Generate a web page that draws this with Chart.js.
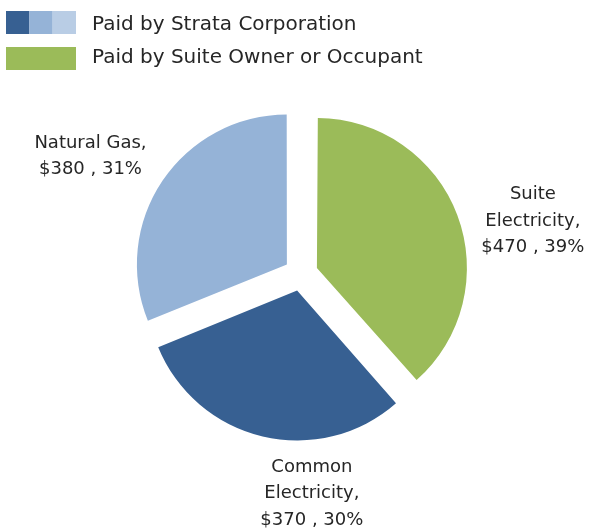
<!DOCTYPE html>
<html>
<head>
<meta charset="utf-8">
<script src="https://cdn.jsdelivr.net/npm/chart.js@4/dist/chart.umd.min.js"></script>
<style>
  html, body { margin: 0; padding: 0; background: #fff; }
  #wrap { position: relative; width: 589px; height: 529px; }
</style>
</head>
<body>
<div id="wrap"><canvas id="pie"></canvas></div>
<script>
// ── Utility cost split: pie ──
const sliceNames  = ['Suite Electricity', 'Common Electricity', 'Natural Gas'];
const sliceCosts  = [470, 370, 380];
const slicePcts   = [39, 30, 31];
const labelLines  = [
  ['Suite', 'Electricity,', '$470 , 39%'],
  ['Common', 'Electricity,', '$370 , 30%'],
  ['Natural Gas,', '$380 , 31%']
];
const legendTexts = ['Paid by Strata Corporation', 'Paid by Suite Owner or Occupant'];

const GREEN = '#9BBB59', DARK = '#376092', MID = '#95B3D7', LIGHT = '#B9CDE5';
const sliceColors = [GREEN, DARK, MID];
const TEXT = '#262626';
const FONT = '"DejaVu Sans", sans-serif';

// label placement relative to each slice's outer mid point
const labelShift = [[81, 4], [49, 58], [-73, -25]];

// Chart.js grows an offset arc's radius a bit; undo that so all slices match
const evenRadius = {
  id: 'evenRadius',
  afterDatasetUpdate(chart) {
    chart.getDatasetMeta(0).data.forEach(arc => {
      const off = (arc.options.offset || 0) / 4;
      const fix = 1 - Math.sin(Math.min(Math.PI, arc.circumference));
      arc.outerRadius -= off * fix;
    });
  }
};

const sliceLabels = {
  id: 'sliceLabels',
  afterDatasetsDraw(chart) {
    const ctx = chart.ctx;
    const arcs = chart.getDatasetMeta(0).data;
    ctx.save();
    ctx.fillStyle = TEXT;
    ctx.font = '18px ' + FONT;
    ctx.textAlign = 'center';
    ctx.textBaseline = 'middle';
    arcs.forEach((arc, i) => {
      const mid = (arc.startAngle + arc.endAngle) / 2;
      const off = (arc.options.offset || 0) / 4;
      const r = off + arc.outerRadius;
      const px = arc.x + Math.cos(mid) * r + labelShift[i][0];
      const py = arc.y + Math.sin(mid) * r + labelShift[i][1];
      const lines = labelLines[i];
      const lh = 26.5;
      lines.forEach((t, k) => {
        ctx.fillText(t, px, py + (k - (lines.length - 1) / 2) * lh);
      });
    });
    ctx.restore();
  }
};

const legendBox = {
  id: 'legendBox',
  afterDraw(chart) {
    const ctx = chart.ctx;
    ctx.save();
    // strata: three blue shades in one swatch
    [DARK, MID, LIGHT].forEach((c, k) => {
      ctx.fillStyle = c;
      ctx.fillRect(6 + k * 23.3, 11, 23.4, 23);
    });
    ctx.fillStyle = GREEN;
    ctx.fillRect(6, 47, 70, 23);
    ctx.fillStyle = TEXT;
    ctx.font = '20px ' + FONT;
    ctx.textAlign = 'left';
    ctx.textBaseline = 'alphabetic';
    ctx.fillText(legendTexts[0], 92, 30);
    ctx.fillText(legendTexts[1], 92, 63);
    ctx.restore();
  }
};

new Chart(document.getElementById('pie'), {
  type: 'pie',
  data: {
    labels: sliceNames,
    datasets: [{
      data: sliceCosts,
      backgroundColor: sliceColors,
      borderWidth: 0,
      offset: 68,
      hoverOffset: 0
    }]
  },
  options: {
    responsive: true,
    maintainAspectRatio: false,
    animation: false,
    layout: { padding: { left: 117, right: 104, top: 90, bottom: 71 } },
    plugins: {
      legend: { display: false },
      tooltip: { enabled: false }
    }
  },
  plugins: [evenRadius, sliceLabels, legendBox]
});
</script>
</body>
</html>
